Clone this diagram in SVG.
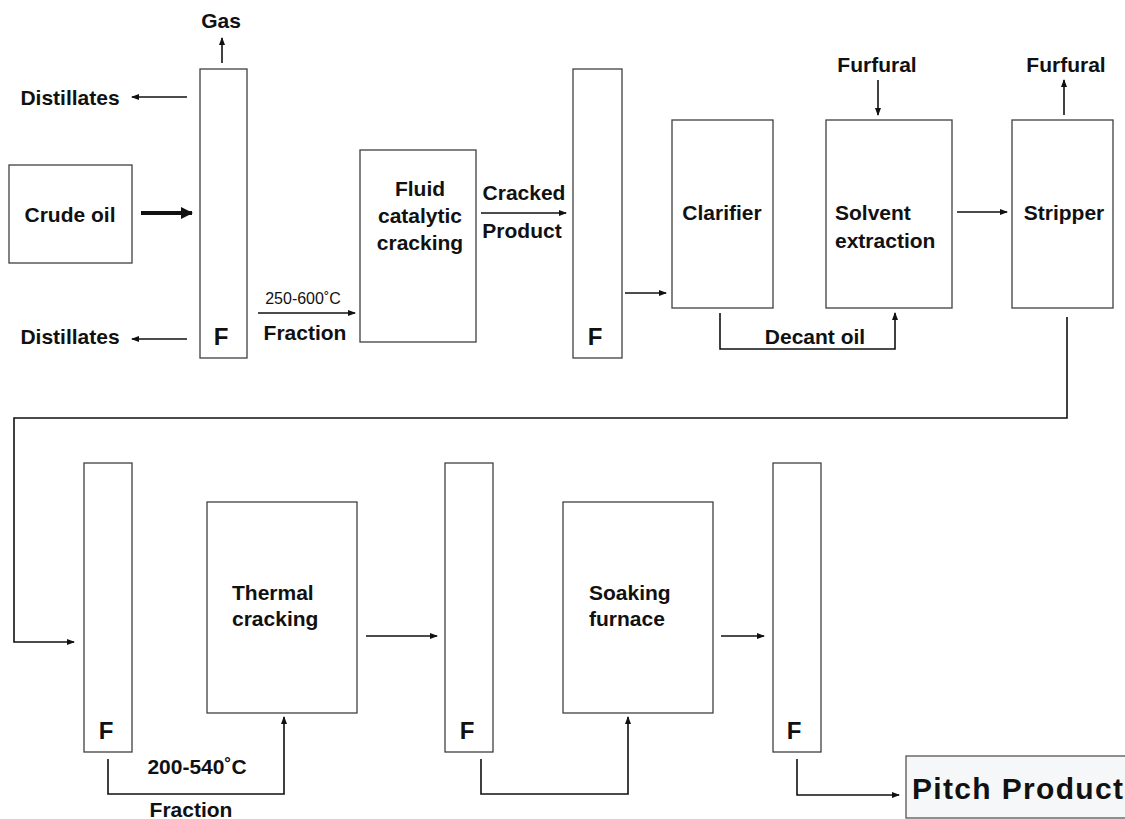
<svg xmlns="http://www.w3.org/2000/svg" width="1125" height="819" viewBox="0 0 1125 819">
<style>
.box{fill:#fff;stroke:#404040;stroke-width:1.3}
.lbl{font-family:"Liberation Sans",Arial,sans-serif;font-weight:bold;font-size:21px;fill:#111;dominant-baseline:central}
.mid{text-anchor:middle}
.f{font-size:24px}
.thin{font-weight:normal;font-size:16px}
.con{fill:none;stroke:#111;stroke-width:1.6}
</style>
<defs>
<marker id="ah" markerUnits="userSpaceOnUse" markerWidth="8" markerHeight="6" refX="7" refY="3" orient="auto">
<path d="M0,0 L8,3 L0,6 Z" fill="#111"/>
</marker>
<marker id="ahb" markerUnits="userSpaceOnUse" markerWidth="12" markerHeight="12" refX="11" refY="6" orient="auto">
<path d="M0,0 L12,6 L0,12 Z" fill="#111"/>
</marker>
</defs>
<rect width="1125" height="819" fill="#fff"/>

<g id="connectors">
<line class="con" x1="222" y1="63" x2="222" y2="38" marker-end="url(#ah)"/>
<line class="con" x1="187" y1="97" x2="132" y2="97" marker-end="url(#ah)"/>
<line class="con" x1="187" y1="339" x2="132" y2="339" marker-end="url(#ah)"/>
<line class="con" x1="141" y1="213" x2="192" y2="213" style="stroke-width:4" marker-end="url(#ahb)"/>
<line class="con" x1="258" y1="313" x2="355" y2="313" marker-end="url(#ah)"/>
<line class="con" x1="481" y1="213" x2="566" y2="213" marker-end="url(#ah)"/>
<line class="con" x1="625" y1="293" x2="666" y2="293" marker-end="url(#ah)"/>
<path class="con" d="M720,313 V349 H895 V313" marker-end="url(#ah)"/>
<line class="con" x1="878" y1="80" x2="878" y2="115" marker-end="url(#ah)"/>
<line class="con" x1="1064" y1="115" x2="1064" y2="80" marker-end="url(#ah)"/>
<line class="con" x1="957" y1="212" x2="1007" y2="212" marker-end="url(#ah)"/>
<path class="con" d="M1067,317 V418 H14 V642 H74" marker-end="url(#ah)"/>
<path class="con" d="M108,759 V794 H284 V717" marker-end="url(#ah)"/>
<line class="con" x1="366" y1="636" x2="437" y2="636" marker-end="url(#ah)"/>
<path class="con" d="M481,759 V794 H628 V717" marker-end="url(#ah)"/>
<line class="con" x1="721" y1="636" x2="764" y2="636" marker-end="url(#ah)"/>
<path class="con" d="M797,759 V795 H899" marker-end="url(#ah)"/>
</g>

<g id="crude-oil">
<rect class="box" x="9" y="165" width="123" height="98"/>
<text class="lbl mid" x="70" y="214">Crude oil</text>
</g>
<g id="column-1">
<rect class="box" x="200" y="69" width="47" height="289"/>
<text class="lbl mid f" x="221" y="336">F</text>
</g>
<g id="fcc">
<rect class="box" x="360" y="150" width="116" height="192"/>
<text class="lbl mid" x="420" y="188">Fluid</text>
<text class="lbl mid" x="420" y="215">catalytic</text>
<text class="lbl mid" x="420" y="242">cracking</text>
</g>
<g id="column-2">
<rect class="box" x="573" y="69" width="49" height="289"/>
<text class="lbl mid f" x="595" y="336">F</text>
</g>
<g id="clarifier">
<rect class="box" x="672" y="120" width="101" height="188"/>
<text class="lbl mid" x="722" y="212">Clarifier</text>
</g>
<g id="solvent-extraction">
<rect class="box" x="826" y="120" width="126" height="188"/>
<text class="lbl" x="835" y="212">Solvent</text>
<text class="lbl" x="835" y="240">extraction</text>
</g>
<g id="stripper">
<rect class="box" x="1012" y="120" width="101" height="188"/>
<text class="lbl mid" x="1064" y="212">Stripper</text>
</g>
<g id="column-3">
<rect class="box" x="84" y="463" width="48" height="289"/>
<text class="lbl mid f" x="106" y="730">F</text>
</g>
<g id="thermal-cracking">
<rect class="box" x="207" y="502" width="150" height="211"/>
<text class="lbl" x="232" y="592">Thermal</text>
<text class="lbl" x="232" y="618">cracking</text>
</g>
<g id="column-4">
<rect class="box" x="445" y="463" width="48" height="289"/>
<text class="lbl mid f" x="467" y="730">F</text>
</g>
<g id="soaking-furnace">
<rect class="box" x="563" y="502" width="150" height="211"/>
<text class="lbl" x="589" y="592">Soaking</text>
<text class="lbl" x="589" y="618">furnace</text>
</g>
<g id="column-5">
<rect class="box" x="773" y="463" width="48" height="289"/>
<text class="lbl mid f" x="794" y="730">F</text>
</g>
<g id="pitch-product">
<rect x="906" y="756" width="230" height="62" fill="#f6f7f9" stroke="#555" stroke-width="1.3"/>
<text class="lbl" x="912" y="788" style="font-size:30px" textLength="211" lengthAdjust="spacing">Pitch Product</text>
</g>

<g id="labels">
<text class="lbl mid" x="221" y="20">Gas</text>
<text class="lbl mid" x="70" y="97">Distillates</text>
<text class="lbl mid" x="70" y="336">Distillates</text>
<text class="lbl mid thin" x="303" y="298">250-600˚C</text>
<text class="lbl mid" x="305" y="332">Fraction</text>
<text class="lbl mid" x="524" y="192">Cracked</text>
<text class="lbl mid" x="522" y="230">Product</text>
<text class="lbl mid" x="877" y="64">Furfural</text>
<text class="lbl mid" x="1066" y="64">Furfural</text>
<text class="lbl mid" x="815" y="336">Decant oil</text>
<text class="lbl mid" x="197" y="766">200-540˚C</text>
<text class="lbl mid" x="191" y="809">Fraction</text>
</g>
</svg>
